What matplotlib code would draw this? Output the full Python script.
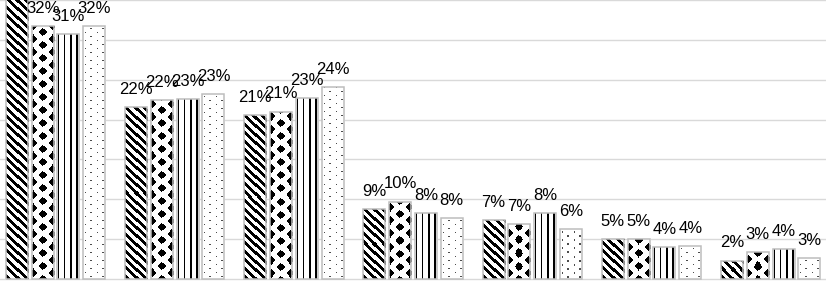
import numpy as np
import matplotlib
matplotlib.use('Agg')
import matplotlib.pyplot as plt

# values (percent)
categories = ['G1', 'G2', 'G3', 'G4', 'G5', 'G6', 'G7']
series_names = ['S1', 'S2', 'S3', 'S4']
s1 = [36.5, 21.6, 20.6, 8.8, 7.4, 5.0, 2.3]
s2 = [31.7, 22.4, 21.0, 9.7, 6.9, 5.0, 3.4]
s3 = [30.7, 22.6, 22.7, 8.3, 8.3, 4.0, 3.8]
s4 = [31.7, 23.2, 24.1, 7.6, 6.3, 4.1, 2.6]
patterns = ['diag', 'diamond', 'vlines', 'dots']

W, H = 826, 281


def texture(kind, w, h, top):
    c, r = np.meshgrid(np.arange(w) + 0.5, np.arange(h) + 0.5 + top)
    img = np.ones((h, w))
    if kind == 'diag':
        img[((c - r) % 8.4) < 4.0] = 0
    elif kind == 'diamond':
        # two staggered sub-lattices of diamonds
        for ox, oy in [(1.5, 0.0), (10.5, 6.5)]:
            dx = np.abs(((c - ox + 9) % 18) - 9)
            dy = np.abs(((r - oy + 6.5) % 13) - 6.5)
            img[dx / 3.9 + dy / 4.2 < 1] = 0
    elif kind == 'vlines':
        img[((c - 1) % 5.7) < 1.4] = 0
    elif kind == 'dots':
        col = np.floor((c - 2) / 5.5)
        m = (((c - 2) % 5.5) < 1.3) & (((r + (col % 2) * 4) % 8) < 1.3)
        img[m] = 0.3
    return img


fig = plt.figure(figsize=(W / 100, H / 100), dpi=100)
ax = fig.add_axes([0, 0, 1, 1])
ax.set_xlim(-0.4656, 6.464)
ax.set_ylim(-0.25, 35.0)

x = np.arange(len(categories))
pitch = 0.2165
width = 0.185

for k, vals in enumerate([s1, s2, s3, s4]):
    xs = x + (k - 1.5) * pitch
    bars = ax.bar(xs, vals, width, color='white', linewidth=0, zorder=2)
    for bar, xv, v in zip(bars, xs, vals):
        (px0, py0), (px1, py1) = ax.transData.transform([(xv - width / 2, 0), (xv + width / 2, v)])
        w = max(int(round(px1 - px0)), 1)
        h = max(int(round(py1 - py0)), 1)
        img = texture(patterns[k], w, h, H - py1)
        im = ax.imshow(img, extent=(xv - width / 2, xv + width / 2, 0, v), origin='upper',
                       cmap='gray', vmin=0, vmax=1, interpolation='nearest', aspect='auto', zorder=2.5)
        im.set_clip_path(bar)
        ax.annotate(f'{v:.0f}%', (xv, v), xytext=(0, 9.5), textcoords='offset points',
                    ha='center', va='baseline', fontsize=12, family='Liberation Sans', zorder=4)
    ax.bar(xs, vals, width, fill=False, edgecolor='#bdbdbd', linewidth=1.1, zorder=3)

ax.set_xlim(-0.4656, 6.464)
ax.set_ylim(-0.25, 35.0)
ax.set_yticks(np.arange(0, 40, 5))
ax.grid(axis='y', color='#d9d9d9', linewidth=1.0)
ax.set_axisbelow(True)
ax.tick_params(length=0, labelleft=False, labelbottom=False)
for s in ax.spines.values():
    s.set_visible(False)

fig.savefig('out.png', dpi=100)
